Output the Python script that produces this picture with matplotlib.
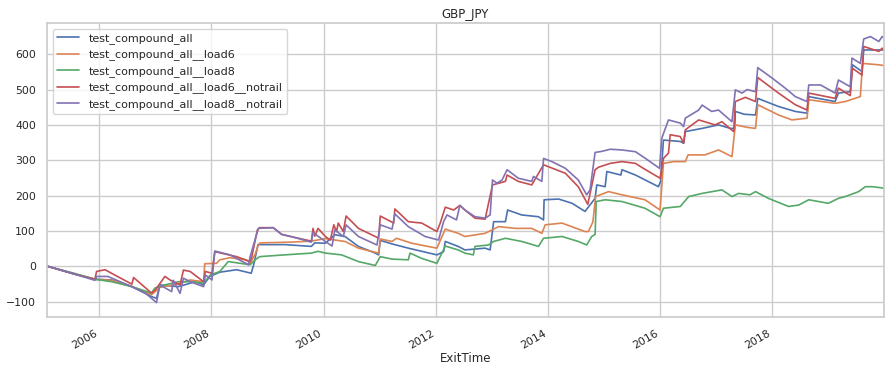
import matplotlib
matplotlib.use("Agg")
import matplotlib.pyplot as plt
import matplotlib.dates as mdates
import pandas as pd
import seaborn as sns

# (decimal year, cumulative value)
compound_all = [
    (2005.07, 0), (2005.57, -23), (2005.92, -37), (2006.22, -39), (2006.58, -58), (2006.93, -86),
    (2007.02, -91), (2007.08, -53), (2007.41, -58), (2007.71, -44), (2007.86, -53), (2007.97, -29),
    (2008.15, -17), (2008.45, -10), (2008.71, -20), (2008.76, 8), (2008.83, 61), (2009.31, 61),
    (2009.78, 56), (2009.84, 66), (2010.03, 65), (2010.20, 89), (2010.38, 84), (2010.62, 56),
    (2010.92, 37), (2010.98, 32), (2011.01, 73), (2011.22, 63), (2011.51, 51), (2012.02, 32),
    (2012.14, 41), (2012.17, 70), (2012.40, 56), (2012.52, 46), (2012.88, 51), (2012.97, 46),
    (2013.03, 126), (2013.24, 126), (2013.28, 159), (2013.53, 145), (2013.83, 140), (2013.92, 131),
    (2013.93, 188), (2014.19, 190), (2014.43, 178), (2014.66, 155), (2014.84, 192), (2014.87, 230),
    (2015.02, 225), (2015.05, 268), (2015.30, 258), (2015.32, 273), (2015.56, 258), (2015.97, 225),
    (2016.01, 240), (2016.06, 357), (2016.36, 353), (2016.42, 348), (2016.45, 381), (2016.75, 390),
    (2017.04, 400), (2017.25, 390), (2017.33, 390), (2017.34, 438), (2017.50, 430), (2017.70, 428),
    (2017.74, 475), (2018.11, 452), (2018.41, 438), (2018.62, 433), (2018.65, 480), (2019.12, 466),
    (2019.18, 490), (2019.39, 494), (2019.43, 570), (2019.60, 551), (2019.63, 612), (2019.99, 612),
]
compound_load6 = [
    (2005.07, 0), (2005.57, -23), (2005.92, -37), (2006.22, -40), (2006.58, -57), (2006.93, -81),
    (2007.08, -60), (2007.41, -50), (2007.62, -39), (2007.86, -44), (2007.88, 7), (2008.09, 8),
    (2008.15, 18), (2008.33, 24), (2008.62, 18), (2008.69, 8), (2008.78, 34), (2008.84, 61),
    (2008.87, 66), (2009.40, 68), (2009.78, 71), (2010.03, 78), (2010.20, 74), (2010.38, 70),
    (2010.62, 51), (2010.98, 37), (2011.01, 77), (2011.22, 70), (2011.30, 79), (2011.57, 65),
    (2012.02, 51), (2012.17, 105), (2012.40, 93), (2012.52, 84), (2012.88, 93), (2013.12, 112),
    (2013.42, 107), (2013.71, 107), (2013.89, 93), (2013.95, 117), (2014.25, 122), (2014.66, 98),
    (2014.72, 98), (2014.80, 125), (2014.85, 197), (2015.08, 211), (2015.32, 202), (2015.73, 188),
    (2016.00, 159), (2016.06, 291), (2016.24, 296), (2016.45, 296), (2016.50, 315), (2016.80, 315),
    (2017.04, 329), (2017.28, 310), (2017.34, 400), (2017.55, 393), (2017.70, 390), (2017.74, 457),
    (2018.11, 428), (2018.35, 414), (2018.62, 419), (2018.65, 471), (2019.12, 461), (2019.30, 466),
    (2019.57, 480), (2019.61, 574), (2019.90, 570), (2019.99, 568),
]
compound_load8 = [
    (2005.07, 0), (2005.57, -21), (2005.92, -37), (2006.22, -44), (2006.58, -58), (2006.93, -76),
    (2006.99, -62), (2007.17, -53), (2007.41, -44), (2007.62, -44), (2007.86, -48), (2007.98, -25),
    (2008.15, -15), (2008.30, 13), (2008.69, 4), (2008.78, 18), (2008.86, 27), (2009.30, 32),
    (2009.78, 37), (2009.90, 42), (2010.03, 37), (2010.32, 32), (2010.62, 13), (2010.92, 2),
    (2011.01, 27), (2011.22, 20), (2011.51, 18), (2011.54, 37), (2011.75, 22), (2012.02, 8),
    (2012.17, 57), (2012.40, 46), (2012.52, 37), (2012.67, 32), (2012.70, 56), (2012.94, 60),
    (2013.03, 70), (2013.24, 79), (2013.53, 70), (2013.83, 56), (2013.92, 79), (2014.25, 84),
    (2014.54, 70), (2014.69, 60), (2014.78, 84), (2014.84, 90), (2014.86, 183), (2015.02, 188),
    (2015.32, 183), (2015.73, 164), (2016.00, 140), (2016.06, 164), (2016.36, 169), (2016.51, 197),
    (2016.75, 206), (2017.10, 216), (2017.28, 197), (2017.40, 206), (2017.60, 202), (2017.70, 211),
    (2017.93, 192), (2018.29, 169), (2018.47, 173), (2018.65, 188), (2019.00, 178), (2019.18, 192),
    (2019.30, 197), (2019.54, 211), (2019.66, 225), (2019.78, 225), (2019.99, 221),
]
compound_load6_notrail = [
    (2005.07, 0), (2005.57, -23), (2005.92, -37), (2005.95, -15), (2006.10, -10), (2006.58, -51),
    (2006.61, -32), (2006.93, -76), (2007.00, -67), (2007.17, -29), (2007.26, -39), (2007.44, -53),
    (2007.50, -11), (2007.62, -15), (2007.86, -44), (2007.89, -15), (2008.01, -20), (2008.06, 41),
    (2008.45, 27), (2008.69, 13), (2008.72, 27), (2008.82, 103), (2008.86, 109), (2009.10, 109),
    (2009.25, 90), (2009.49, 81), (2009.78, 71), (2009.81, 107), (2009.84, 85), (2009.90, 107),
    (2010.03, 84), (2010.12, 74), (2010.18, 117), (2010.23, 98), (2010.26, 122), (2010.35, 98),
    (2010.40, 142), (2010.62, 107), (2010.92, 84), (2010.98, 79), (2011.01, 142), (2011.25, 122),
    (2011.27, 162), (2011.51, 126), (2011.75, 122), (2012.02, 98), (2012.08, 122), (2012.17, 167),
    (2012.32, 159), (2012.43, 172), (2012.52, 159), (2012.70, 136), (2012.88, 133), (2013.01, 230),
    (2013.24, 240), (2013.27, 258), (2013.47, 240), (2013.71, 230), (2013.92, 287), (2014.31, 263),
    (2014.54, 225), (2014.71, 175), (2014.84, 273), (2014.90, 280), (2015.11, 291), (2015.32, 296),
    (2015.56, 291), (2015.70, 277), (2016.00, 249), (2016.06, 305), (2016.15, 320), (2016.18, 372),
    (2016.36, 367), (2016.42, 348), (2016.45, 386), (2016.69, 414), (2016.98, 400), (2017.10, 409),
    (2017.31, 381), (2017.34, 466), (2017.52, 478), (2017.70, 466), (2017.74, 534), (2018.11, 490),
    (2018.41, 457), (2018.62, 442), (2018.65, 490), (2019.12, 475), (2019.18, 504), (2019.39, 483),
    (2019.43, 560), (2019.60, 541), (2019.63, 622), (2019.90, 608), (2019.96, 617), (2019.99, 612),
]
compound_load8_notrail = [
    (2005.07, 0), (2005.57, -23), (2005.92, -40), (2005.95, -29), (2006.15, -29), (2006.58, -58),
    (2006.82, -76), (2007.02, -103), (2007.08, -53), (2007.29, -72), (2007.32, -40), (2007.44, -77),
    (2007.50, -34), (2007.62, -44), (2007.86, -58), (2007.89, -25), (2008.01, -39), (2008.06, 43),
    (2008.33, 32), (2008.66, 4), (2008.69, 27), (2008.82, 98), (2008.84, 107), (2009.10, 109),
    (2009.25, 90), (2009.49, 81), (2009.78, 68), (2009.81, 95), (2010.03, 70), (2010.15, 57),
    (2010.20, 103), (2010.35, 84), (2010.40, 117), (2010.62, 84), (2010.95, 60), (2011.01, 117),
    (2011.22, 105), (2011.27, 148), (2011.51, 112), (2011.81, 84), (2012.05, 74), (2012.14, 126),
    (2012.20, 145), (2012.37, 131), (2012.43, 172), (2012.52, 159), (2012.70, 140), (2012.88, 136),
    (2012.97, 145), (2013.01, 244), (2013.09, 235), (2013.18, 244), (2013.27, 273), (2013.47, 249),
    (2013.71, 240), (2013.74, 254), (2013.89, 240), (2013.92, 305), (2014.07, 296), (2014.31, 277),
    (2014.54, 244), (2014.69, 202), (2014.75, 216), (2014.84, 322), (2014.96, 325), (2015.11, 331),
    (2015.32, 329), (2015.56, 324), (2015.73, 306), (2015.99, 277), (2016.03, 362), (2016.15, 414),
    (2016.36, 405), (2016.42, 395), (2016.45, 419), (2016.69, 442), (2016.75, 456), (2016.92, 438),
    (2017.04, 442), (2017.28, 409), (2017.34, 499), (2017.46, 490), (2017.55, 500), (2017.70, 494),
    (2017.74, 562), (2018.00, 532), (2018.23, 504), (2018.41, 480), (2018.62, 466), (2018.65, 513),
    (2018.86, 513), (2019.12, 490), (2019.18, 527), (2019.39, 508), (2019.42, 589), (2019.57, 574),
    (2019.63, 643), (2019.75, 650), (2019.90, 636), (2019.96, 650), (2019.99, 646),
]

series_names = [
    "test_compound_all",
    "test_compound_all__load6",
    "test_compound_all__load8",
    "test_compound_all__load6__notrail",
    "test_compound_all__load8__notrail",
]
series_points = [compound_all, compound_load6, compound_load8,
                 compound_load6_notrail, compound_load8_notrail]
title = "GBP_JPY"


def to_series(points):
    years = [p[0] for p in points]
    vals = [p[1] for p in points]
    base = pd.to_datetime([f"{int(y)}-01-01" for y in years])
    offs = pd.to_timedelta([(y - int(y)) * 365.25 for y in years], unit="D")
    return pd.Series(vals, index=base + offs)


sns.set_theme(style="whitegrid", palette="deep")
plt.rcParams["font.family"] = ["DejaVu Sans"]

fig, ax = plt.subplots(figsize=(8.91, 3.73), dpi=100)
fig.subplots_adjust(left=0.053, right=0.992, top=0.938, bottom=0.15)

for name, pts in zip(series_names, series_points):
    s = to_series(pts)
    ax.plot(s.index, s.values, lw=1.2, label=name)

first = to_series(compound_all).index
ax.set_xlim(first.min(), first.max())
ax.set_ylim(-144, 688)
ax.xaxis.set_major_locator(mdates.YearLocator(2))
ax.xaxis.set_major_formatter(mdates.DateFormatter("%Y"))
for lab in ax.get_xticklabels():
    lab.set_rotation(30)
    lab.set_ha("right")
ax.tick_params(labelsize=7.8, pad=2)
ax.set_xlabel("ExitTime", fontsize=8.5, labelpad=1)
ax.set_title(title, fontsize=8.5, pad=4)
ax.legend(loc="upper left", fontsize=8.0)

fig.savefig("out.png", dpi=100)
